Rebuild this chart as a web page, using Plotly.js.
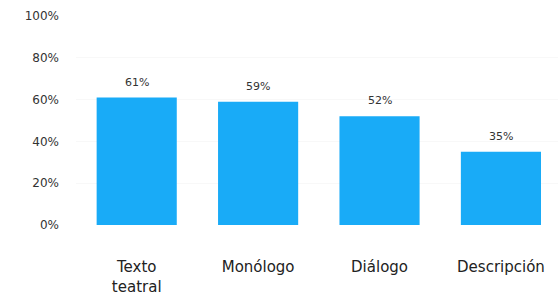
<!DOCTYPE html>
<html><head><meta charset="utf-8">
<script src="https://cdn.plot.ly/plotly-3.0.1.min.js"></script>
<style>html,body{margin:0;padding:0;background:#fff}</style>
</head><body>
<div id="chart" style="width:558px;height:306px"></div>
<script>
var categories = ["Texto<br>teatral", "Monólogo", "Diálogo", "Descripción"];
var values = [0.61, 0.59, 0.52, 0.35];
var valueLabels = ["61%", "59%", "52%", "35%"];
var yTickVals = [0, 0.2, 0.4, 0.6, 0.8, 1.0];
var yTickText = ["0%", "20%", "40%", "60%", "80%", "100%"];

var trace = {
  type: "bar",
  x: categories,
  y: values,
  marker: {color: "#19abf7"},
  width: 0.66,
  hoverinfo: "none"
};
var annotations = categories.map(function (c, i) {
  return {
    x: c, y: values[i], xref: "x", yref: "y",
    text: valueLabels[i], showarrow: false,
    yanchor: "bottom", yshift: 7,
    font: {family: "DejaVu Sans, sans-serif", size: 11, color: "#333"}
  };
});
var layout = {
  width: 558, height: 306,
  margin: {l: 76, r: 0, t: 16, b: 81},
  paper_bgcolor: "#fff", plot_bgcolor: "#fff",
  showlegend: false,
  font: {family: "DejaVu Sans, sans-serif", color: "#333"},
  annotations: annotations,
  xaxis: {
    range: [-0.5, 3.47],
    showgrid: false, zeroline: false, showline: false,
    ticks: "", ticklabelstandoff: 31,
    tickfont: {size: 15, color: "#222"}
  },
  yaxis: {
    range: [0, 1],
    tickvals: yTickVals, ticktext: yTickText,
    showgrid: true, gridcolor: "#f8f8f8",
    zeroline: false, showline: false, ticks: "",
    ticklabelstandoff: 16,
    tickfont: {size: 12, color: "#333"}
  }
};
Plotly.newPlot("chart", [trace], layout, {displayModeBar: false, staticPlot: true});
</script>
</body></html>
